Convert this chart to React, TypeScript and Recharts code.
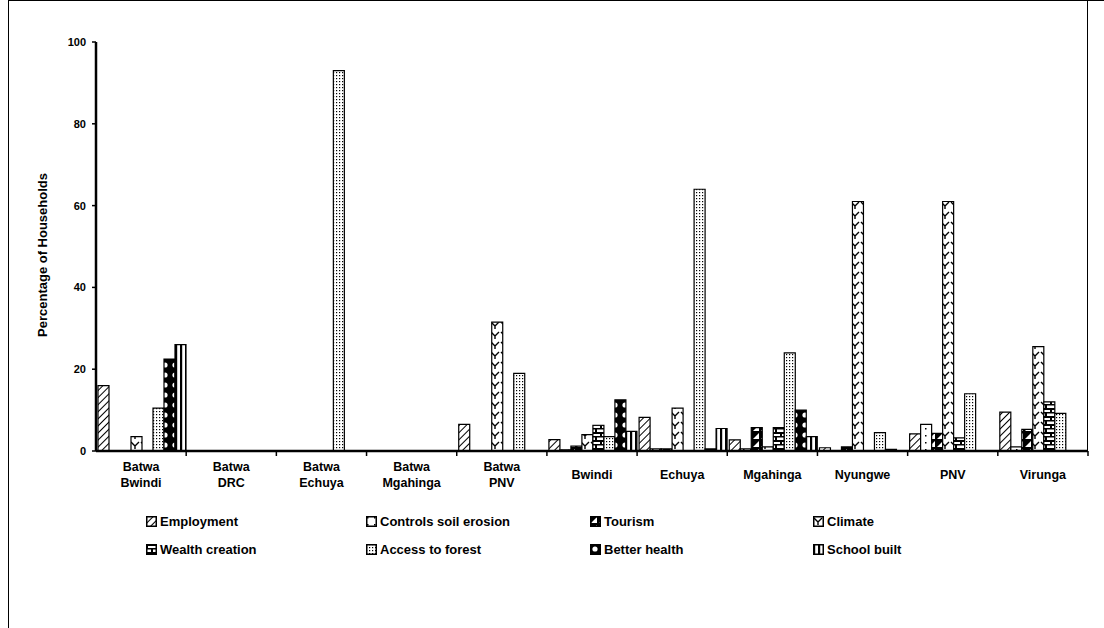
import React from 'react'
import { BarChart, Bar, XAxis, YAxis, Label } from 'recharts'

const categories = [
  'Batwa\nBwindi', 'Batwa\nDRC', 'Batwa\nEchuya', 'Batwa\nMgahinga', 'Batwa\nPNV',
  'Bwindi', 'Echuya', 'Mgahinga', 'Nyungwe', 'PNV', 'Virunga',
]

const employment = [16, 0, 0, 0, 6.5, 2.8, 8.2, 2.7, 0.8, 4.2, 9.5]
const soilErosion = [0, 0, 0, 0, 0, 0.3, 0.5, 0.5, 0, 6.5, 1]
const tourism = [0, 0, 0, 0, 0, 1.2, 0.5, 5.7, 1, 4.3, 5.3]
const climate = [3.5, 0, 0, 0, 31.5, 4, 10.5, 1, 61, 61, 25.5]
const wealth = [0, 0, 0, 0, 0, 6.3, 0, 5.7, 0, 3.2, 12]
const access = [10.5, 0, 93, 0, 19, 3.5, 64, 24, 4.5, 14, 9.2]
const health = [22.5, 0, 0, 0, 0, 12.5, 0.5, 10, 0.4, 0, 0]
const school = [26, 0, 0, 0, 0, 4.8, 5.5, 3.5, 0, 0, 0]

const yTicks = [0, 20, 40, 60, 80, 100]

const SERIES = [
  { key: 'employment', name: 'Employment', values: employment, pat: 'pEmp' },
  { key: 'soil', name: 'Controls soil erosion', values: soilErosion, pat: 'pSoil' },
  { key: 'tourism', name: 'Tourism', values: tourism, pat: 'pTour' },
  { key: 'climate', name: 'Climate', values: climate, pat: 'pClim' },
  { key: 'wealth', name: 'Wealth creation', values: wealth, pat: 'pWealth' },
  { key: 'access', name: 'Access to forest', values: access, pat: 'pAccess' },
  { key: 'health', name: 'Better health', values: health, pat: 'pHealth' },
  { key: 'school', name: 'School built', values: school, pat: 'pSchool' },
]

const data = categories.map((cat, i) => {
  const row: any = { cat }
  SERIES.forEach(s => { row[s.key] = s.values[i] })
  return row
})

const FONT = '"Liberation Sans", Arial, sans-serif'

function Patterns() {
  return (
    <svg width={0} height={0} style={{ position: 'absolute' }}>
      <defs>
        <pattern id="pEmp" width="5" height="5" patternUnits="userSpaceOnUse" patternTransform="rotate(45)">
          <rect width="5" height="5" fill="#fff" />
          <line x1="0" y1="0" x2="0" y2="5" stroke="#000" strokeWidth="2" />
        </pattern>
        <pattern id="pSoil" width="7" height="7" patternUnits="userSpaceOnUse">
          <rect width="7" height="7" fill="#fff" />
          <rect x="1" y="1" width="1.5" height="1.5" fill="#000" />
        </pattern>
        <pattern id="pTour" width="8" height="8" patternUnits="userSpaceOnUse">
          <rect width="8" height="8" fill="#000" />
          <polygon points="1,7 7,7 7,1" fill="#fff" />
        </pattern>
        <pattern id="pClim" width="10" height="10" patternUnits="userSpaceOnUse">
          <rect width="10" height="10" fill="#fff" />
          <path d="M1,2 L5,6 L9,2 M5,6 L5,9" stroke="#000" strokeWidth="1.4" fill="none" />
        </pattern>
        <pattern id="pWealth" width="10" height="8" patternUnits="userSpaceOnUse">
          <rect width="10" height="8" fill="#fff" />
          <rect x="0" y="0" width="10" height="2" fill="#000" />
          <rect x="0" y="4" width="10" height="1.5" fill="#000" />
          <rect x="0" y="0" width="2" height="4" fill="#000" />
          <rect x="5" y="4" width="2" height="4" fill="#000" />
        </pattern>
        <pattern id="pAccess" width="3" height="3" patternUnits="userSpaceOnUse">
          <rect width="3" height="3" fill="#fff" />
          <rect x="0" y="0" width="1.2" height="1.2" fill="#000" />
        </pattern>
        <pattern id="pHealth" width="10" height="10" patternUnits="userSpaceOnUse">
          <rect width="10" height="10" fill="#000" />
          <circle cx="5" cy="5" r="2.6" fill="#fff" />
        </pattern>
        <pattern id="pSchool" width="5" height="5" patternUnits="userSpaceOnUse">
          <rect width="5" height="5" fill="#fff" />
          <rect x="0" y="0" width="2.2" height="5" fill="#000" />
        </pattern>
      </defs>
    </svg>
  )
}

function CatTick({ x, y, payload, index }: any) {
  const lines = String(payload.value).split('\n')
  const off = payload.offset || 45.1
  const last = index === categories.length - 1
  const first = index === 0
  const base = lines.length === 1 ? y + 28 : y + 20
  return (
    <g>
      {!first && <line x1={x - off} x2={x - off} y1={y} y2={y + 5} stroke="#000" strokeWidth={1.5} />}
      {last && <line x1={x + off} x2={x + off} y1={y} y2={y + 5} stroke="#000" strokeWidth={1.5} />}
      <text x={x} y={base} textAnchor="middle" fontSize={12.5} fontWeight="bold" fontFamily={FONT} fill="#000">
        {lines.map((l, i) => (
          <tspan key={i} x={x} dy={i === 0 ? 0 : 16}>{l}</tspan>
        ))}
      </text>
    </g>
  )
}

function YLabel() {
  return (
    <text x={47} y={255} transform="rotate(-90 47 255)" textAnchor="middle" fontSize={13}
      fontWeight="bold" fontFamily={FONT} fill="#000">
      Percentage of Households
    </text>
  )
}

export default function App() {
  const cols = [146, 366, 590, 813]
  return (
    <div style={{ position: 'absolute', left: 0, top: 0, width: 1104, height: 628, background: '#fff', fontFamily: FONT }}>
      <Patterns />
      {/* frame */}
      <div style={{ position: 'absolute', left: 8, top: 0, width: 1096, height: 628, borderLeft: '1.5px solid #000', borderTop: '1.5px solid #000', boxSizing: 'border-box' }} />
      <div style={{ position: 'absolute', left: 1087, top: 0, width: 0, height: 452, borderLeft: '1.5px solid #000' }} />

      <div style={{ position: 'absolute', left: 0, top: 0 }}>
        <BarChart width={1104} height={520} data={data} margin={{ top: 42, right: 16, left: 36, bottom: 9 }}
          barCategoryGap={2} barGap={0}>
          <XAxis dataKey="cat" interval={0} height={60} tickLine={false} tickSize={0} tickMargin={0}
            axisLine={{ stroke: '#000', strokeWidth: 2.5 }} tick={<CatTick />} />
          <YAxis domain={[0, 100]} ticks={yTicks} width={60} tickSize={4} tickMargin={6}
            axisLine={{ stroke: '#000', strokeWidth: 2.5 }} tickLine={{ stroke: '#000', strokeWidth: 1.5 }}
            tick={{ fontSize: 11, fontWeight: 'bold', fill: '#000', fontFamily: FONT }}>
            <Label content={<YLabel />} />
          </YAxis>
          {SERIES.map(s => (
            <Bar key={s.key} dataKey={s.key} name={s.name} fill={`url(#${s.pat})`} stroke="#000"
              strokeWidth={1.2} isAnimationActive={false} />
          ))}
        </BarChart>
      </div>

      {/* legend */}
      {SERIES.map((s, i) => {
        const row = Math.floor(i / 4)
        const col = i % 4
        return (
          <div key={s.key} style={{ position: 'absolute', left: cols[col], top: 514 + row * 28, display: 'flex', alignItems: 'center', fontSize: 13, fontWeight: 'bold', color: '#000', whiteSpace: 'nowrap' }}>
            <svg width={11} height={11} style={{ marginRight: 3 }}>
              <rect x={0.75} y={0.75} width={9.5} height={9.5} fill={`url(#${s.pat})`} stroke="#000" strokeWidth={1.5} />
            </svg>
            <span>{s.name}</span>
          </div>
        )
      })}
    </div>
  )
}
